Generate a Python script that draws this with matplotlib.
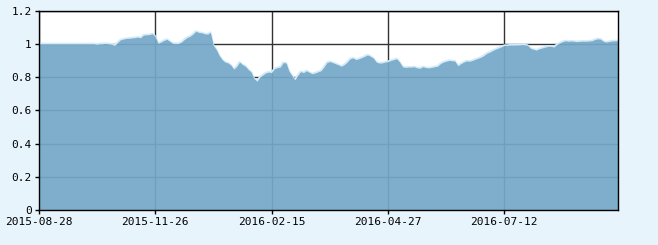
import numpy as np
import matplotlib.pyplot as plt

# net value series (one point per trading step)
values = [
    1.0, 1.0, 1.0, 1.0, 1.0, 1.0, 1.0, 1.0, 1.0, 1.0,
    1.0, 1.0, 1.0, 1.0, 1.0, 1.0, 1.0, 1.0, 1.0, 1.0,
    0.997, 1.0, 1.0, 1.002, 1.0, 0.998, 0.99, 1.005, 1.023, 1.028,
    1.032, 1.033, 1.035, 1.037, 1.04, 1.036, 1.052, 1.054, 1.055, 1.06,
    1.045, 1.003, 1.01, 1.02, 1.027, 1.015, 1.003, 1.002, 1.002, 1.01,
    1.025, 1.038, 1.045, 1.058, 1.075, 1.068, 1.066, 1.06, 1.058, 1.068,
    0.99, 0.965, 0.93, 0.905, 0.89, 0.885, 0.872, 0.848, 0.863, 0.89,
    0.875, 0.865, 0.845, 0.83, 0.79, 0.775, 0.8, 0.813, 0.825, 0.83,
    0.827, 0.85, 0.857, 0.86, 0.887, 0.885, 0.835, 0.81, 0.783, 0.81,
    0.833, 0.827, 0.838, 0.828, 0.82, 0.825, 0.832, 0.838, 0.86, 0.887,
    0.893, 0.887, 0.88, 0.873, 0.865, 0.875, 0.89, 0.91, 0.915, 0.905,
    0.91, 0.917, 0.925, 0.933, 0.925, 0.913, 0.89, 0.884, 0.885, 0.89,
    0.893, 0.9, 0.905, 0.91, 0.89, 0.862, 0.858, 0.86, 0.86, 0.862,
    0.855, 0.853, 0.862, 0.857, 0.855, 0.858, 0.862, 0.865, 0.88, 0.89,
    0.895, 0.9, 0.898, 0.896, 0.868, 0.88, 0.89, 0.897, 0.895, 0.9,
    0.907, 0.913, 0.92, 0.93, 0.943, 0.95, 0.96, 0.968, 0.975, 0.982,
    0.99, 0.99, 0.993, 0.992, 0.993, 0.993, 0.995, 0.994, 0.99, 0.972,
    0.967, 0.962, 0.97, 0.975, 0.98, 0.985, 0.985, 0.98, 0.995, 1.005,
    1.013, 1.018, 1.015, 1.017, 1.015, 1.013, 1.015, 1.016, 1.015, 1.017,
    1.018, 1.025, 1.03, 1.028, 1.015, 1.01, 1.014, 1.017, 1.018, 1.018,
]

tick_labels = ['2015-08-28', '2015-11-26', '2016-02-15', '2016-04-27', '2016-07-12']
tick_step = 40  # points between date labels
y_ticks = [0, 0.2, 0.4, 0.6, 0.8, 1.0, 1.2]
y_labels = ['0', '0.2', '0.4', '0.6', '0.8', '1', '1.2']

x = np.arange(len(values))

fig = plt.figure(figsize=(6.58, 2.45), dpi=100, facecolor='#e8f4fc')
ax = fig.add_axes([0.0588, 0.1416, 0.8802, 0.8155])
ax.set_facecolor('white')

# light halo along the top edge, then the filled area
ax.plot(x, values, color='#d4eaf8', lw=1.6, zorder=1)
ax.fill_between(x, 0, values, color='#74a8c7', alpha=0.93, lw=0, zorder=2)

ax.set_xlim(0, len(values) - 1)
ax.set_ylim(0, 1.2)
ax.set_xticks([i * tick_step for i in range(len(tick_labels))])
ax.set_xticklabels(tick_labels)
ax.set_yticks(y_ticks)
ax.set_yticklabels(y_labels)

ax.set_axisbelow(True)
ax.grid(True, color='#333333', lw=1)

for s in ax.spines.values():
    s.set_color('black')
    s.set_linewidth(1)
    s.set_zorder(3)

ax.tick_params(length=3, width=1, colors='black', labelsize=8, pad=2)
for lab in ax.get_xticklabels() + ax.get_yticklabels():
    lab.set_family('DejaVu Sans Mono')

fig.savefig('out.png', dpi=100, facecolor=fig.get_facecolor())
